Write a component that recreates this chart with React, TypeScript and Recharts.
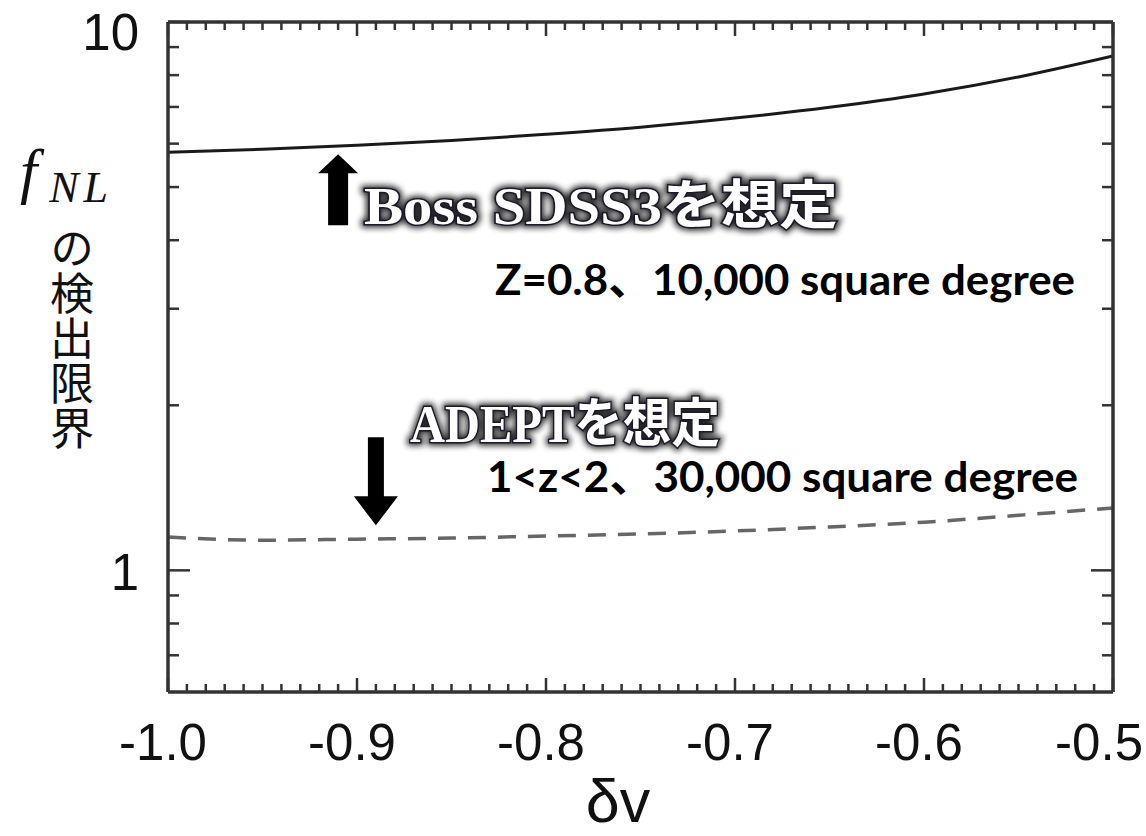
import { LineChart, Line, XAxis, YAxis, ReferenceDot } from 'recharts'

// δv samples along the x axis
const deltaV = [-1.0, -0.95, -0.9, -0.85, -0.8, -0.75, -0.7, -0.65, -0.6, -0.55, -0.5]
// f_NL detection limit, Boss SDSS3 (solid)
const bossLimit = [5.79, 5.86, 5.96, 6.08, 6.24, 6.43, 6.68, 6.99, 7.39, 7.94, 8.67]
// f_NL detection limit, ADEPT (dashed)
const adeptLimit = [1.15, 1.135, 1.14, 1.145, 1.155, 1.165, 1.18, 1.2, 1.224, 1.26, 1.3]

const xMajorTicks = [-1.0, -0.9, -0.8, -0.7, -0.6, -0.5]
const xTickLabels = ['-1.0', '-0.9', '-0.8', '-0.7', '-0.6', '-0.5']
const yTicks = [0.7, 0.8, 0.9, 1, 2, 3, 4, 5, 6, 7, 8, 9, 10]
const yMajorTicks = [1, 10]
const yTickLabels = ['1', '10']

const bossTitle = 'Boss SDSS3を想定'
const bossNote = 'Z=0.8、10,000 square degree'
const adeptTitle = 'ADEPTを想定'
const adeptNote = '1<z<2、30,000 square degree'

const rows = deltaV.map((dv, i) => ({ dv, boss: bossLimit[i], adept: adeptLimit[i] }))

// minor ticks every 0.01 between the labelled ones
const xTicks: number[] = []
for (let i = 0; i < xMajorTicks.length - 1; i++) {
  for (let k = 0; k < 10; k++) xTicks.push(Math.round((xMajorTicks[i] + k * 0.01) * 100) / 100)
}
xTicks.push(xMajorTicks[xMajorTicks.length - 1])

const FRAME = '#333'
const TICK_FONT = '"Liberation Sans", Arial, sans-serif'
const isMajorX = (v: number) => xMajorTicks.some(m => Math.abs(m - v) < 1e-6)

function BottomTick({ x, y, payload }: any) {
  const v = payload.value
  const major = isMajorX(v)
  const idx = xMajorTicks.findIndex(m => Math.abs(m - v) < 1e-6)
  const last = idx === xMajorTicks.length - 1
  return (
    <g>
      <line x1={x} y1={y} x2={x} y2={y - (major ? 14 : 8)} stroke={FRAME} strokeWidth={2.5} />
      {major && (
        <text
          x={last ? x + 30 : x - 5}
          y={y + 68}
          textAnchor={last ? 'end' : 'middle'}
          fontFamily={TICK_FONT}
          fontSize={51}
          fill="#111"
        >
          {xTickLabels[idx]}
        </text>
      )}
    </g>
  )
}

function TopTick({ x, y, payload }: any) {
  const major = isMajorX(payload.value)
  return <line x1={x} y1={y} x2={x} y2={y + (major ? 14 : 8)} stroke={FRAME} strokeWidth={2.5} />
}

function LeftTick({ x, y, payload }: any) {
  const v = payload.value
  const idx = yMajorTicks.indexOf(v)
  const major = idx >= 0
  return (
    <g>
      <line x1={x} y1={y} x2={x + (major ? 22 : 11)} y2={y} stroke={FRAME} strokeWidth={2.5} />
      {major && (
        <text
          x={x - 29}
          y={y + (v === 10 ? 28 : 20)}
          textAnchor="end"
          fontFamily={TICK_FONT}
          fontSize={51}
          fill="#111"
        >
          {yTickLabels[idx]}
        </text>
      )}
    </g>
  )
}

function RightTick({ x, y, payload }: any) {
  const major = yMajorTicks.includes(payload.value)
  return <line x1={x} y1={y} x2={x - (major ? 22 : 11)} y2={y} stroke={FRAME} strokeWidth={2.5} />
}

function UpArrow({ cx, cy }: any) {
  const pts = [
    [cx, cy], [cx + 20, cy + 19], [cx + 10, cy + 19], [cx + 10, cy + 71],
    [cx - 10, cy + 71], [cx - 10, cy + 19], [cx - 20, cy + 19],
  ]
  return <polygon points={pts.map(p => p.join(',')).join(' ')} fill="#000" />
}

function DownArrow({ cx, cy }: any) {
  const pts = [
    [cx, cy], [cx + 22, cy - 29], [cx + 8, cy - 29], [cx + 8, cy - 88],
    [cx - 8, cy - 88], [cx - 8, cy - 29], [cx - 22, cy - 29],
  ]
  return <polygon points={pts.map(p => p.join(',')).join(' ')} fill="#000" />
}

const titleFont = '"Liberation Serif", "Noto Sans CJK JP", serif'

function makeTitle(text: string, width: number, id: string) {
  return ({ cx, cy }: any) => (
    <g>
      <defs>
        <filter id={id} x="-10%" y="-40%" width="120%" height="180%">
          <feGaussianBlur stdDeviation="3" />
        </filter>
      </defs>
      <text
        x={cx} y={cy} fontFamily={titleFont} fontWeight="bold" fontSize={53}
        textLength={width} lengthAdjust="spacingAndGlyphs"
        fill="#000" stroke="#000" strokeWidth={7} filter={`url(#${id})`} opacity={0.85}
      >
        {text}
      </text>
      <text
        x={cx} y={cy} fontFamily={titleFont} fontWeight="bold" fontSize={53}
        textLength={width} lengthAdjust="spacingAndGlyphs"
        fill="#fff" stroke="#1a1a2a" strokeWidth={3} paintOrder="stroke"
      >
        {text}
      </text>
    </g>
  )
}

function makeNote(text: string, width: number) {
  return ({ cx, cy }: any) => (
    <text
      x={cx} y={cy} fontFamily='Lato, "Noto Sans CJK JP", sans-serif' fontWeight="bold" fontSize={42}
      textLength={width} lengthAdjust="spacingAndGlyphs" fill="#000"
    >
      {text}
    </text>
  )
}

const BossTitle = makeTitle(bossTitle, 474, 'glowBoss')
const AdeptTitle = makeTitle(adeptTitle, 310, 'glowAdept')
const BossNote = makeNote(bossNote, 580)
const AdeptNote = makeNote(adeptNote, 591)

function YLabel() {
  return (
    <g>
      <text x={20} y={192} fontFamily='"Liberation Serif", serif' fontStyle="italic" fontSize={62} fill="#111">
        f
        <tspan dy={10} dx={12} fontSize={44} letterSpacing={5}>NL</tspan>
      </text>
      <text
        x={72} y={226} fontFamily='"Noto Sans CJK JP", sans-serif' fontSize={44} fill="#111"
        style={{ writingMode: 'vertical-rl' }} letterSpacing={1}
      >
        の検出限界
      </text>
    </g>
  )
}

function XLabel() {
  return (
    <text x={618} y={822} textAnchor="middle" fontFamily={TICK_FONT} fontSize={61} fill="#111">
      δv
    </text>
  )
}

export default function App() {
  const axisLine = { stroke: FRAME, strokeWidth: 3.5 }
  return (
    <div style={{ position: 'absolute', left: 0, top: 0, background: '#fff' }}>
      <LineChart width={1146} height={836} data={rows} margin={{ top: 21, right: 32, bottom: 143, left: 167 }}>
        <XAxis
          xAxisId="b" dataKey="dv" type="number" domain={[-1, -0.5]} ticks={xTicks} interval={0}
          allowDataOverflow height={1} tickSize={0} tickMargin={0} tickLine={false}
          axisLine={axisLine} tick={<BottomTick />}
        />
        <XAxis
          xAxisId="t" orientation="top" dataKey="dv" type="number" domain={[-1, -0.5]} ticks={xTicks}
          interval={0} allowDataOverflow height={1} tickSize={0} tickMargin={0} tickLine={false}
          axisLine={axisLine} tick={<TopTick />}
        />
        <YAxis
          yAxisId="l" type="number" scale="log" domain={[0.6, 10]} ticks={yTicks} interval={0}
          allowDataOverflow width={1} tickSize={0} tickMargin={0} tickLine={false}
          axisLine={axisLine} tick={<LeftTick />}
        />
        <YAxis
          yAxisId="r" orientation="right" type="number" scale="log" domain={[0.6, 10]} ticks={yTicks}
          interval={0} allowDataOverflow width={1} tickSize={0} tickMargin={0} tickLine={false}
          axisLine={axisLine} tick={<RightTick />}
        />
        <Line
          xAxisId="b" yAxisId="l" type="monotone" dataKey="boss" stroke="#1a1a1a" strokeWidth={3}
          dot={false} isAnimationActive={false}
        />
        <Line
          xAxisId="b" yAxisId="l" type="monotone" dataKey="adept" stroke="#666" strokeWidth={3.5}
          strokeDasharray="18 12" dot={false} isAnimationActive={false}
        />
        <ReferenceDot xAxisId="b" yAxisId="l" x={-0.91} y={5.74} r={0} shape={<UpArrow />} />
        <ReferenceDot xAxisId="b" yAxisId="l" x={-0.89} y={1.208} r={0} shape={<DownArrow />} />
        <ReferenceDot xAxisId="b" yAxisId="l" x={-0.8963} y={4.29} r={0} shape={<BossTitle />} />
        <ReferenceDot xAxisId="b" yAxisId="l" x={-0.827} y={3.18} r={0} shape={<BossNote />} />
        <ReferenceDot xAxisId="b" yAxisId="l" x={-0.872} y={1.714} r={0} shape={<AdeptTitle />} />
        <ReferenceDot xAxisId="b" yAxisId="l" x={-0.8312} y={1.389} r={0} shape={<AdeptNote />} />
      </LineChart>
      <svg width={1146} height={836} style={{ position: 'absolute', left: 0, top: 0, pointerEvents: 'none' }}>
        <YLabel />
        <XLabel />
      </svg>
    </div>
  )
}
